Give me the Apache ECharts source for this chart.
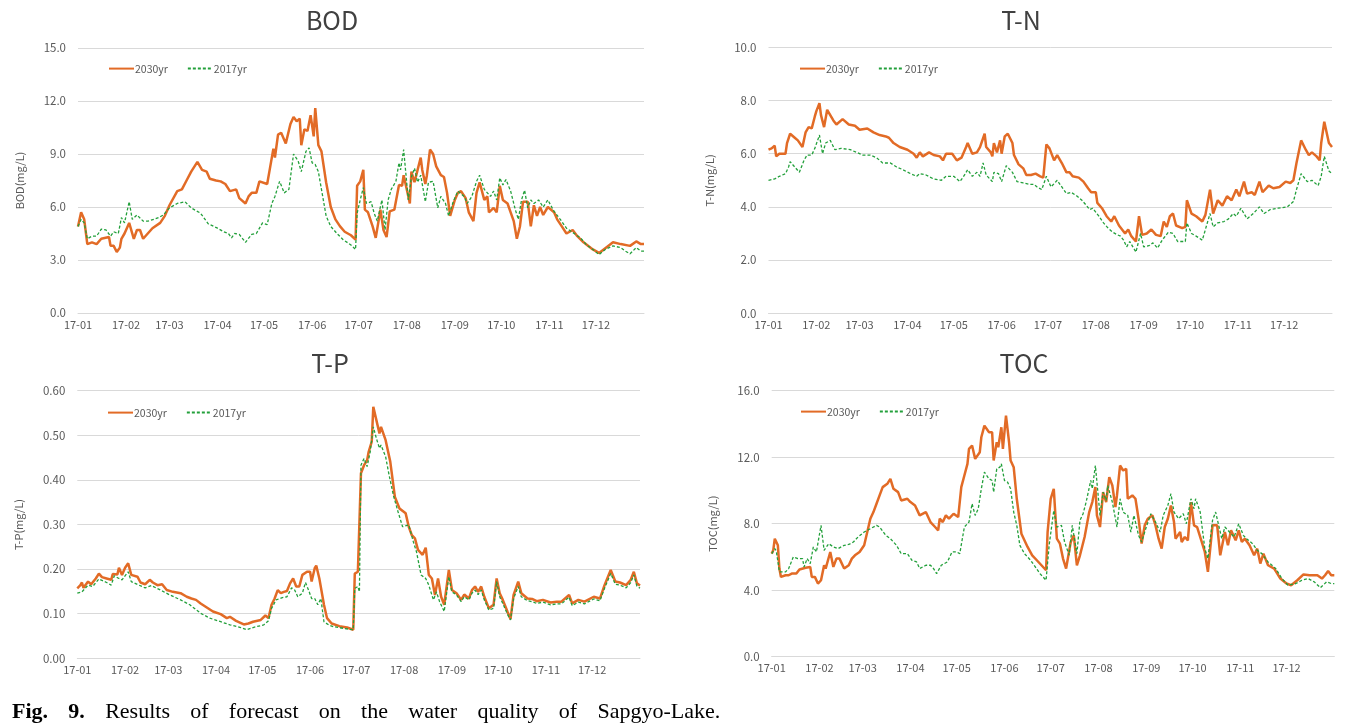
<!DOCTYPE html>
<html><head><meta charset="utf-8">
<script src="https://cdn.jsdelivr.net/npm/echarts@6/dist/echarts.min.js"></script>
<style>
html,body{margin:0;padding:0;background:#fff;}
#wrap{position:relative;width:1354px;height:724px;}
#chart{width:1354px;height:724px;}
#cap{position:absolute;left:12px;top:698px;font-family:'Liberation Serif','Times New Roman',serif;font-size:22px;word-spacing:14.8px;white-space:nowrap;color:#000;line-height:26px;}
</style>
</head><body>
<div id="wrap"><div id="chart"></div><div id="cap"><b>Fig. 9.</b> Results of forecast on the water quality of Sapgyo-Lake.</div></div>
<script>
// x = day of year 2017 (0 = Jan 1), y = concentration
const monthLabels = ['17-01','17-02','17-03','17-04','17-05','17-06','17-07','17-08','17-09','17-10','17-11','17-12'];
const monthStartDays = [0,31,59,90,120,151,181,212,243,273,304,334];
const seriesNames = ['2030yr','2017yr'];

const bod2030 = [[0,4.9],[2,5.7],[4,5.3],[6,3.9],[9,4.0],[12,3.9],[15,4.2],[20,4.3],[21,3.8],[23,3.8],[25,3.45],[27,3.7],[28,4.2],[30,4.5],[33,5.1],[36,4.2],[38,4.7],[40,4.7],[42,4.2],[45,4.5],[48,4.8],[53,5.1],[56,5.5],[59,6.1],[64,6.9],[67,7.0],[70,7.5],[73,8.0],[77,8.55],[80,8.1],[83,8.0],[85,7.6],[89,7.5],[92,7.45],[95,7.3],[98,6.9],[102,7.0],[104,6.5],[108,6.2],[110,6.6],[112,6.8],[115,6.8],[117,7.45],[122,7.3],[124,8.3],[126,9.3],[127,8.8],[129,10.1],[131,10.2],[134,9.6],[137,10.7],[139,11.1],[141,10.85],[143,11.0],[144,9.5],[146,10.4],[148,10.3],[150,11.2],[152,10.0],[153,11.6],[155,9.5],[157,9.15],[160,7.4],[163,6.0],[166,5.3],[169,4.9],[172,4.6],[176,4.4],[179,4.15],[180,7.2],[182,7.45],[184,8.1],[185,5.85],[187,5.7],[190,4.9],[192,4.25],[194,5.3],[195,5.85],[197,4.7],[199,4.3],[201,5.75],[204,5.85],[207,7.25],[209,7.2],[210,7.8],[212,7.0],[214,6.2],[215,8.0],[217,7.4],[219,8.1],[221,8.8],[222,8.1],[224,7.3],[225,7.8],[227,9.25],[229,9.0],[231,8.3],[234,7.8],[236,7.7],[238,6.8],[240,5.5],[243,6.4],[245,6.8],[247,6.9],[250,6.5],[252,5.7],[255,5.2],[257,6.8],[259,7.4],[262,6.4],[264,6.6],[265,5.7],[268,5.95],[270,5.7],[272,7.2],[274,6.4],[277,6.2],[279,5.7],[281,5.2],[283,4.2],[285,4.9],[287,6.3],[290,6.3],[292,4.9],[294,6.1],[296,5.5],[298,6.0],[300,5.55],[303,6.0],[307,5.7],[309,5.3],[312,4.9],[315,4.5],[319,4.7],[322,4.35],[326,4.0],[332,3.6],[336,3.4],[339,3.6],[345,4.0],[350,3.9],[356,3.8],[360,4.05],[363,3.9],[365,3.9]];
const bod2017 = [[0,4.9],[2,5.3],[4,5.1],[6,4.2],[9,4.35],[12,4.35],[15,4.75],[18,4.7],[21,4.35],[23,4.6],[24,4.7],[26,4.5],[28,5.4],[30,5.1],[33,6.3],[35,5.3],[38,5.55],[42,5.2],[45,5.2],[49,5.3],[52,5.4],[55,5.55],[59,5.95],[64,6.2],[69,6.3],[73,5.95],[79,5.65],[84,5.05],[90,4.8],[94,4.6],[97,4.5],[99,4.25],[101,4.5],[104,4.45],[108,4.0],[112,4.45],[115,4.5],[119,5.1],[122,5.0],[125,6.2],[127,6.6],[130,7.45],[133,6.8],[136,7.0],[139,9.0],[142,8.6],[144,8.0],[147,9.15],[149,9.35],[151,8.5],[153,8.4],[155,8.0],[157,7.0],[160,5.5],[163,4.9],[167,4.5],[171,4.15],[176,3.85],[179,3.6],[180,5.65],[182,6.4],[184,7.1],[186,6.2],[189,6.3],[191,5.65],[193,5.2],[196,6.4],[198,4.7],[200,6.4],[202,7.0],[205,7.45],[207,8.5],[208,8.1],[210,9.25],[213,6.4],[215,7.7],[217,8.2],[219,7.4],[221,7.8],[224,6.3],[226,7.4],[229,7.45],[232,5.95],[234,6.6],[237,6.2],[239,5.5],[242,6.3],[245,6.9],[249,6.6],[251,6.2],[254,6.6],[257,7.45],[259,7.8],[262,7.0],[264,6.8],[266,6.6],[268,6.9],[270,6.4],[272,7.65],[274,7.25],[276,7.55],[279,6.9],[282,5.85],[284,5.3],[286,6.4],[288,6.95],[290,5.95],[292,6.4],[294,6.2],[297,6.4],[300,6.0],[303,6.4],[307,5.75],[311,5.3],[315,4.8],[320,4.5],[324,4.25],[328,3.85],[332,3.6],[336,3.3],[340,3.6],[345,3.8],[350,3.7],[353,3.5],[356,3.35],[360,3.7],[363,3.5],[365,3.5]];

const tn2030 = [[0,6.15],[2,6.2],[4,6.3],[5,5.9],[7,6.0],[11,6.0],[12,6.4],[14,6.75],[17,6.6],[19,6.5],[22,6.25],[24,6.8],[26,7.0],[28,6.95],[30,7.4],[31,7.6],[33,7.9],[34,7.45],[36,7.0],[38,7.65],[39,7.65],[42,7.25],[44,7.1],[48,7.3],[52,7.1],[56,7.05],[59,6.9],[64,6.95],[68,6.8],[72,6.7],[76,6.65],[78,6.6],[81,6.4],[85,6.25],[90,6.15],[94,6.0],[96,5.85],[98,6.05],[100,5.9],[104,6.05],[107,5.95],[111,5.9],[113,5.75],[115,6.0],[119,6.0],[122,5.75],[125,5.85],[128,6.25],[129,6.4],[132,6.0],[135,6.05],[137,6.25],[140,6.75],[141,6.25],[144,6.05],[145,5.9],[146,6.4],[148,6.05],[150,6.5],[151,6.0],[153,6.65],[155,6.75],[158,6.4],[159,5.95],[162,5.6],[165,5.45],[167,5.2],[170,5.2],[173,5.25],[176,5.15],[178,5.1],[180,6.35],[182,6.2],[185,5.75],[187,5.95],[190,5.65],[193,5.3],[195,5.3],[197,5.15],[201,5.1],[204,4.95],[207,4.7],[209,4.55],[212,4.55],[213,4.15],[216,3.95],[219,3.65],[222,3.45],[224,3.65],[227,3.3],[229,3.15],[231,3.0],[233,3.15],[235,2.9],[238,2.7],[240,3.65],[242,2.95],[245,3.0],[248,3.15],[251,2.95],[254,2.9],[256,3.45],[258,3.25],[260,3.65],[262,3.75],[264,3.3],[268,3.2],[270,3.25],[271,4.25],[274,3.75],[277,3.65],[281,3.45],[283,3.7],[286,4.65],[288,3.75],[291,4.25],[294,4.05],[297,4.4],[300,4.25],[303,4.65],[305,4.4],[308,4.95],[310,4.5],[313,4.55],[315,4.45],[318,4.95],[320,4.55],[324,4.8],[327,4.7],[331,4.75],[335,4.95],[338,4.9],[340,5.0],[342,5.65],[345,6.5],[348,6.15],[350,5.95],[352,6.05],[355,5.9],[357,5.75],[358,6.4],[360,7.2],[363,6.4],[365,6.25]];
const tn2017 = [[0,5.0],[4,5.05],[7,5.15],[11,5.25],[13,5.5],[14,5.7],[17,5.5],[20,5.3],[23,5.75],[25,5.95],[28,5.95],[30,6.2],[33,6.7],[35,6.0],[37,6.4],[40,6.5],[43,6.15],[47,6.2],[53,6.15],[57,6.05],[61,5.95],[66,5.95],[70,5.85],[74,5.65],[79,5.65],[83,5.5],[87,5.4],[92,5.25],[96,5.15],[98,5.25],[102,5.2],[107,5.05],[112,5.0],[115,5.15],[120,5.15],[124,4.95],[127,5.2],[129,5.4],[132,5.15],[135,5.3],[137,5.15],[139,5.65],[141,5.2],[145,4.95],[146,5.3],[149,5.25],[151,4.95],[154,5.55],[158,5.3],[161,4.95],[165,4.9],[169,4.85],[172,4.85],[174,4.75],[177,4.65],[180,5.15],[183,4.75],[187,5.0],[190,4.75],[193,4.5],[196,4.55],[200,4.4],[203,4.25],[206,4.05],[208,3.9],[210,3.95],[214,3.65],[217,3.4],[220,3.2],[223,3.05],[226,2.95],[228,2.9],[230,2.75],[232,2.5],[234,2.7],[236,2.5],[238,2.3],[241,3.0],[243,2.5],[247,2.55],[249,2.65],[252,2.45],[255,2.75],[257,2.9],[259,3.05],[262,3.0],[265,2.7],[270,2.7],[271,3.4],[274,3.0],[277,2.9],[281,2.75],[283,3.15],[286,3.75],[288,3.25],[291,3.4],[295,3.45],[298,3.55],[301,3.75],[303,3.65],[306,3.95],[310,3.55],[314,3.75],[318,4.0],[321,3.75],[325,3.9],[330,3.95],[336,4.0],[340,4.2],[342,4.65],[345,5.25],[349,4.95],[352,5.0],[356,4.8],[358,5.15],[360,5.9],[363,5.35],[365,5.25]];

const tp2030 = [[0,0.157],[2,0.164],[3,0.170],[4,0.158],[7,0.172],[9,0.166],[12,0.179],[14,0.190],[16,0.182],[19,0.179],[22,0.176],[23,0.189],[26,0.188],[27,0.203],[29,0.187],[31,0.203],[33,0.213],[35,0.187],[36,0.187],[39,0.183],[41,0.170],[44,0.166],[47,0.176],[49,0.170],[52,0.164],[55,0.166],[58,0.153],[62,0.149],[67,0.146],[71,0.138],[74,0.134],[77,0.131],[80,0.123],[84,0.114],[88,0.105],[93,0.099],[97,0.090],[99,0.093],[103,0.084],[108,0.076],[111,0.078],[114,0.082],[119,0.086],[122,0.096],[124,0.090],[126,0.120],[128,0.134],[130,0.153],[132,0.146],[134,0.149],[136,0.151],[138,0.168],[140,0.179],[142,0.161],[144,0.161],[146,0.187],[147,0.190],[149,0.194],[151,0.194],[152,0.172],[154,0.202],[155,0.208],[157,0.179],[160,0.120],[162,0.090],[165,0.078],[170,0.072],[175,0.069],[179,0.064],[180,0.190],[182,0.194],[183,0.190],[184,0.415],[186,0.433],[188,0.444],[189,0.463],[191,0.486],[192,0.564],[194,0.534],[196,0.504],[197,0.519],[200,0.489],[203,0.441],[206,0.362],[209,0.336],[213,0.325],[215,0.295],[217,0.276],[219,0.269],[221,0.243],[224,0.232],[226,0.248],[228,0.187],[230,0.179],[232,0.142],[234,0.179],[236,0.138],[238,0.120],[241,0.198],[243,0.153],[246,0.146],[249,0.131],[251,0.143],[254,0.134],[256,0.153],[258,0.161],[260,0.149],[262,0.161],[264,0.138],[267,0.112],[270,0.120],[272,0.179],[274,0.146],[276,0.131],[279,0.105],[281,0.088],[283,0.142],[286,0.172],[288,0.146],[292,0.134],[295,0.133],[298,0.128],[302,0.131],[307,0.125],[311,0.127],[314,0.127],[319,0.142],[321,0.123],[325,0.131],[329,0.127],[335,0.138],[339,0.134],[342,0.164],[346,0.198],[349,0.172],[352,0.170],[356,0.164],[359,0.176],[361,0.194],[363,0.168],[365,0.163]];
const tp2017 = [[0,0.146],[3,0.149],[4,0.149],[7,0.164],[10,0.161],[14,0.178],[19,0.170],[22,0.164],[24,0.185],[27,0.179],[29,0.176],[33,0.194],[35,0.172],[40,0.164],[44,0.158],[48,0.163],[54,0.153],[60,0.142],[67,0.131],[73,0.120],[80,0.101],[86,0.090],[93,0.082],[99,0.075],[106,0.069],[110,0.064],[114,0.069],[121,0.075],[124,0.084],[126,0.112],[129,0.131],[133,0.136],[136,0.138],[139,0.158],[141,0.153],[143,0.138],[146,0.146],[148,0.170],[150,0.153],[152,0.134],[154,0.134],[156,0.120],[158,0.134],[160,0.082],[163,0.075],[166,0.071],[173,0.067],[179,0.064],[180,0.157],[182,0.161],[183,0.149],[184,0.433],[186,0.448],[188,0.430],[190,0.463],[192,0.519],[194,0.493],[196,0.471],[197,0.478],[200,0.452],[202,0.415],[205,0.366],[208,0.329],[211,0.295],[215,0.299],[218,0.261],[220,0.239],[223,0.187],[226,0.179],[228,0.164],[231,0.131],[233,0.149],[235,0.127],[238,0.105],[241,0.183],[243,0.149],[246,0.142],[249,0.127],[251,0.138],[254,0.131],[256,0.146],[258,0.153],[260,0.143],[262,0.153],[264,0.131],[267,0.108],[270,0.112],[272,0.172],[274,0.138],[276,0.123],[279,0.099],[281,0.086],[283,0.134],[286,0.161],[288,0.138],[292,0.129],[295,0.127],[298,0.123],[302,0.126],[307,0.120],[311,0.122],[314,0.122],[319,0.137],[321,0.118],[325,0.126],[329,0.122],[335,0.133],[339,0.129],[342,0.157],[346,0.190],[349,0.166],[352,0.164],[356,0.158],[359,0.170],[361,0.187],[363,0.162],[365,0.157]];

const toc2030 = [[0,6.2],[1,6.4],[2,7.1],[4,6.7],[5,5.3],[6,4.8],[9,4.9],[11,4.9],[13,5.0],[16,5.0],[18,5.25],[22,5.35],[25,5.4],[26,4.8],[28,4.8],[30,4.4],[32,4.6],[34,5.5],[35,5.3],[38,6.3],[40,5.4],[42,5.9],[44,5.9],[47,5.3],[50,5.5],[52,5.9],[54,6.1],[57,6.3],[60,6.7],[62,7.5],[64,8.3],[66,8.7],[68,9.2],[70,9.7],[72,10.2],[75,10.4],[77,10.7],[79,10.1],[82,9.9],[84,9.4],[88,9.5],[90,9.3],[93,9.1],[96,8.5],[100,8.7],[103,8.1],[106,7.8],[108,7.6],[109,8.3],[111,8.1],[113,8.5],[115,8.3],[118,8.6],[121,8.4],[123,10.2],[125,10.9],[127,11.6],[128,12.5],[130,12.7],[132,11.9],[135,12.3],[136,13.2],[138,13.9],[141,13.5],[143,13.5],[144,11.8],[146,12.9],[147,12.6],[149,13.8],[150,12.5],[152,14.5],[154,12.9],[155,11.8],[157,11.4],[159,9.5],[162,7.4],[166,6.6],[169,6.1],[172,5.8],[175,5.5],[178,5.2],[179,7.5],[181,9.5],[183,10.1],[185,7.1],[187,6.8],[189,5.9],[191,5.3],[194,6.9],[196,7.3],[198,5.5],[200,6.1],[203,7.2],[206,8.7],[208,9.3],[210,10.2],[211,8.5],[213,7.8],[215,9.9],[217,9.3],[219,10.8],[221,10.3],[223,9.0],[224,9.7],[226,11.5],[228,11.2],[230,11.3],[231,9.5],[234,9.7],[236,9.5],[238,8.3],[240,6.8],[242,7.9],[244,8.3],[247,8.5],[249,7.9],[251,7.1],[253,6.5],[255,7.8],[257,8.3],[259,9.1],[261,8.1],[262,7.1],[265,7.5],[266,6.9],[268,7.2],[270,7.0],[272,9.3],[274,7.9],[276,7.8],[279,6.9],[281,6.3],[283,5.1],[284,5.1],[286,7.9],[289,7.9],[291,6.1],[294,7.5],[296,6.7],[298,7.6],[301,7.0],[303,7.6],[305,6.9],[307,7.1],[310,6.7],[313,6.1],[315,6.5],[317,5.6],[319,6.2],[322,5.5],[326,5.3],[330,4.7],[334,4.4],[337,4.3],[341,4.6],[345,4.95],[349,4.9],[354,4.9],[357,4.7],[359,4.9],[361,5.15],[363,4.9],[365,4.9]];
const toc2017 = [[0,6.2],[2,6.5],[3,6.35],[5,5.1],[9,5.1],[11,5.3],[14,6.0],[17,5.9],[20,5.9],[21,5.4],[23,5.9],[25,5.6],[27,6.6],[29,6.3],[32,7.9],[34,6.4],[37,6.8],[40,6.6],[43,6.5],[47,6.7],[50,6.75],[53,6.9],[56,7.2],[60,7.5],[64,7.7],[68,7.9],[70,7.8],[74,7.3],[77,7.1],[81,6.7],[84,6.2],[88,6.2],[91,5.8],[94,5.7],[96,5.3],[100,5.5],[103,5.5],[105,5.3],[107,5.0],[110,5.5],[114,5.7],[117,6.3],[120,6.3],[122,6.2],[125,7.8],[128,8.1],[130,9.2],[132,8.5],[134,8.9],[136,10.1],[138,11.1],[141,10.7],[143,10.6],[144,9.9],[146,11.3],[148,11.4],[149,11.6],[151,10.6],[153,10.5],[155,10.1],[157,8.7],[159,7.9],[161,6.7],[164,6.2],[168,5.8],[171,5.4],[174,5.0],[176,4.8],[178,4.6],[180,6.7],[182,8.1],[183,8.8],[185,7.8],[188,7.9],[190,6.9],[193,6.1],[195,7.9],[198,6.2],[200,8.2],[202,8.6],[204,9.3],[207,10.6],[208,10.1],[210,11.5],[213,8.5],[215,9.9],[217,9.4],[218,10.3],[221,9.3],[224,7.8],[226,9.5],[228,8.7],[231,8.5],[233,7.5],[235,8.5],[238,7.3],[240,6.9],[243,7.8],[246,8.6],[249,8.1],[252,7.5],[254,8.5],[257,9.1],[259,9.8],[261,8.7],[264,8.3],[267,8.6],[269,8.0],[272,9.5],[274,8.9],[275,9.5],[278,8.7],[281,6.5],[283,5.9],[286,8.2],[288,8.7],[290,7.9],[292,7.1],[294,7.8],[297,7.5],[300,7.2],[303,8.0],[306,7.3],[308,7.1],[312,6.8],[315,6.4],[318,6.2],[322,5.7],[327,5.3],[331,4.7],[335,4.3],[340,4.4],[344,4.6],[348,4.7],[352,4.5],[356,4.15],[360,4.5],[363,4.4],[365,4.4]];

const FONT = "'Noto Sans CJK KR','Noto Sans',sans-serif";
const ORANGE = '#E26B26', GREEN = '#23A03B', GRID = '#D9D9D9', LABEL = '#595959';

const panels = [
  {title:'BOD', yName:'BOD(mg/L)', max:15, interval:3, dec:1, grid:{left:78, top:48, width:566, height:265}, tx:332, ty:20, lx:108, ly:63, a:bod2030, b:bod2017},
  {title:'T-N', yName:'T-N(mg/L)', max:10, interval:2, dec:1, grid:{left:768.5, top:47.3, width:563.5, height:266}, tx:1021, ty:20, lx:799, ly:63, a:tn2030, b:tn2017},
  {title:'T-P', yName:'T-P(mg/L)', max:0.6, interval:0.1, dec:2, grid:{left:77.3, top:390.7, width:562.7, height:267.6}, tx:330, ty:363, lx:107, ly:407, a:tp2030, b:tp2017},
  {title:'TOC', yName:'TOC(mg/L)', max:16, interval:4, dec:1, grid:{left:771.7, top:390.7, width:562.6, height:266}, tx:1024, ty:363, lx:800, ly:406, a:toc2030, b:toc2017}
];

const option = {
  animation: false,
  backgroundColor: '#fff',
  title: panels.map(p => ({
    text: p.title, left: p.tx, top: p.ty, padding: 0,
    textAlign: 'center', textVerticalAlign: 'middle',
    textStyle: {fontFamily: FONT, fontSize: 25, fontWeight: 'normal', color: '#404040'}
  })),
  legend: panels.map(p => ({
    data: seriesNames, left: p.lx, top: p.ly, padding: 0,
    itemWidth: 25, itemHeight: 14, itemGap: 19,
    itemStyle: {opacity: 0},
    textStyle: {fontFamily: FONT, fontSize: 10.5, color: LABEL, padding: [0,0,0,-4]}
  })),
  grid: panels.map(p => Object.assign({containLabel: false}, p.grid)),
  xAxis: panels.map((p, i) => ({
    type: 'value', gridIndex: i, min: 0, max: 365,
    axisLine: {show: true, onZero: false, lineStyle: {color: GRID, width: 1}},
    axisTick: {show: false},
    splitLine: {show: false},
    axisLabel: {
      customValues: monthStartDays,
      formatter: v => { const k = monthStartDays.indexOf(Math.round(+v)); return k >= 0 ? monthLabels[k] : ''; },
      fontFamily: FONT, fontSize: 11, color: LABEL, margin: 6,
      showMinLabel: true, showMaxLabel: true, hideOverlap: false
    }
  })),
  yAxis: panels.map((p, i) => ({
    type: 'value', gridIndex: i, min: 0, max: p.max, interval: p.interval,
    name: p.yName, nameLocation: 'middle', nameGap: 53, nameRotate: 90,
    nameTextStyle: {fontFamily: FONT, fontSize: 11, color: LABEL},
    axisLine: {show: false}, axisTick: {show: false},
    splitLine: {show: true, lineStyle: {color: GRID, width: 1}},
    axisLabel: {formatter: v => v.toFixed(p.dec), fontFamily: FONT, fontSize: 11.5, color: LABEL, margin: 12}
  })),
  series: panels.flatMap((p, i) => [
    {name: seriesNames[0], type: 'line', xAxisIndex: i, yAxisIndex: i, data: p.a,
     symbol: 'none', showSymbol: false, smooth: false,
     lineStyle: {color: ORANGE, width: 2.5}, itemStyle: {color: ORANGE}, z: 2},
    {name: seriesNames[1], type: 'line', xAxisIndex: i, yAxisIndex: i, data: p.b,
     symbol: 'none', showSymbol: false, smooth: false,
     lineStyle: {color: GREEN, width: 1.3, type: [3, 2]}, itemStyle: {color: GREEN}, z: 3}
  ])
};

const chart = echarts.init(document.getElementById('chart'), null, {renderer: 'canvas'});
chart.setOption(option);
</script>
</body></html>
